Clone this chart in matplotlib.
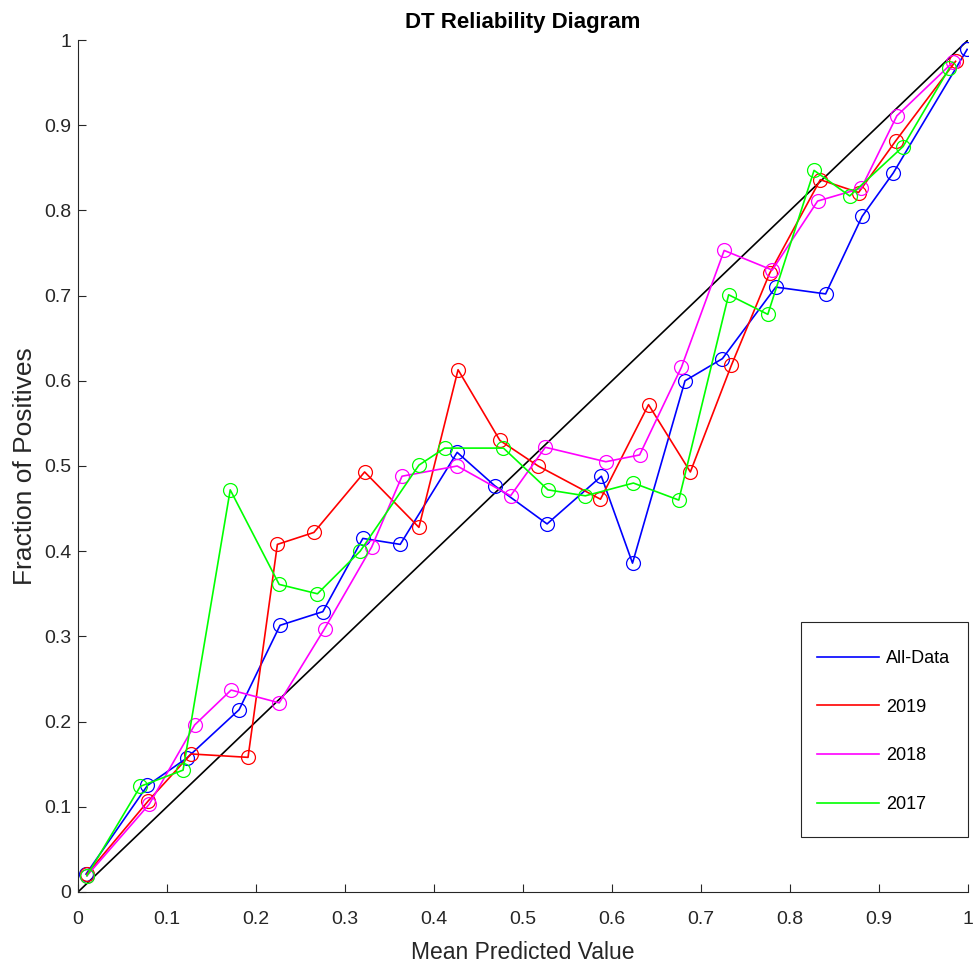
import matplotlib
matplotlib.use("Agg")
import matplotlib.pyplot as plt
from matplotlib.lines import Line2D
from matplotlib.patches import Rectangle

# ── Data ───────────────────────────────────────────────────────────────────
all_x = [0.009, 0.078, 0.122, 0.181, 0.227, 0.275, 0.320, 0.362, 0.426, 0.468,
         0.527, 0.588, 0.623, 0.682, 0.724, 0.784, 0.840, 0.881, 0.916, 0.999]
all_y = [0.021, 0.125, 0.157, 0.214, 0.313, 0.329, 0.415, 0.408, 0.516, 0.477,
         0.432, 0.488, 0.386, 0.600, 0.626, 0.710, 0.702, 0.793, 0.844, 0.989]

y2019_x = [0.010, 0.079, 0.127, 0.191, 0.224, 0.265, 0.322, 0.383, 0.427, 0.474,
           0.517, 0.587, 0.641, 0.688, 0.734, 0.777, 0.834, 0.877, 0.919, 0.986]
y2019_y = [0.021, 0.107, 0.162, 0.158, 0.408, 0.422, 0.493, 0.428, 0.613, 0.530,
           0.500, 0.461, 0.572, 0.493, 0.618, 0.726, 0.836, 0.821, 0.882, 0.975]

y2018_x = [0.010, 0.080, 0.131, 0.172, 0.226, 0.277, 0.330, 0.364, 0.426, 0.486,
           0.525, 0.593, 0.631, 0.678, 0.726, 0.780, 0.831, 0.880, 0.920, 0.983]
y2018_y = [0.019, 0.103, 0.196, 0.237, 0.222, 0.309, 0.405, 0.488, 0.500, 0.465,
           0.522, 0.505, 0.513, 0.616, 0.753, 0.730, 0.811, 0.826, 0.911, 0.974]

y2017_x = [0.010, 0.070, 0.118, 0.171, 0.226, 0.269, 0.317, 0.383, 0.412, 0.478,
           0.528, 0.570, 0.624, 0.675, 0.731, 0.775, 0.827, 0.867, 0.927, 0.979]
y2017_y = [0.019, 0.124, 0.143, 0.472, 0.361, 0.350, 0.400, 0.501, 0.521, 0.521,
           0.472, 0.465, 0.480, 0.460, 0.701, 0.678, 0.847, 0.817, 0.875, 0.967]

tick_vals = [i / 10 for i in range(11)]
tick_labels = ["0", "0.1", "0.2", "0.3", "0.4", "0.5", "0.6", "0.7", "0.8", "0.9", "1"]

series = [
    ("All-Data", all_x, all_y, "#0000ff"),
    ("2019", y2019_x, y2019_y, "#ff0000"),
    ("2018", y2018_x, y2018_y, "#ff00ff"),
    ("2017", y2017_x, y2017_y, "#00ff00"),
]

plt.rcParams["font.family"] = ["Liberation Sans", "DejaVu Sans"]
TXT = "#262626"

fig = plt.figure(figsize=(9.73, 9.67), dpi=100)
ax = fig.add_axes([0.0802, 0.0776, 0.9147, 0.881])

# perfect calibration line
ax.plot([0, 1], [0, 1], color="black", lw=1.2)

handles = []
for label, xs, ys, col in series:
    ax.plot(xs, ys, color=col, lw=1.2, marker="o", markersize=10,
            markerfacecolor="none", markeredgecolor=col, markeredgewidth=0.9)
    handles.append(Line2D([0], [0], color=col, lw=1.2, label=label))

ax.set_xlim(0, 1)
ax.set_ylim(0, 1)
ax.set_xticks(tick_vals)
ax.set_yticks(tick_vals)
ax.set_xticklabels(tick_labels)
ax.set_yticklabels(tick_labels)
ax.tick_params(direction="in", length=6, labelsize=14, color=TXT,
               labelcolor=TXT, width=0.8)
ax.tick_params(axis="x", pad=14)
ax.tick_params(axis="y", pad=5)
ax.spines["top"].set_visible(False)
ax.spines["right"].set_visible(False)
ax.spines["left"].set_color(TXT)
ax.spines["bottom"].set_color(TXT)

ax.set_xlabel("Mean Predicted Value", fontsize=16.5, color=TXT, labelpad=9)
ax.set_ylabel("Fraction of Positives", fontsize=19, color=TXT, labelpad=5)
ax.set_title("DT Reliability Diagram", fontsize=16, fontweight="bold", pad=9)

# legend without its own frame; the box is drawn around it with MATLAB-like padding
leg = ax.legend(handles=handles, loc="lower right",
                bbox_to_anchor=(950 / 973, 154 / 967), bbox_transform=fig.transFigure,
                fontsize=13, frameon=False, labelspacing=1.75,
                handlelength=3.4, borderpad=0.0, handletextpad=0.4,
                borderaxespad=0.0)

fig.canvas.draw()
bb = leg.get_window_extent()
W, H = fig.bbox.width, fig.bbox.height
x0, x1 = bb.x0 - 16, ax.get_window_extent().x1
y0, y1 = bb.y0 - 24, bb.y1 + 28
fig.add_artist(Rectangle((x0 / W, y0 / H), (x1 - x0) / W, (y1 - y0) / H,
                         transform=fig.transFigure, fill=False,
                         edgecolor=TXT, linewidth=0.8))

fig.savefig("out.png", dpi=100)
